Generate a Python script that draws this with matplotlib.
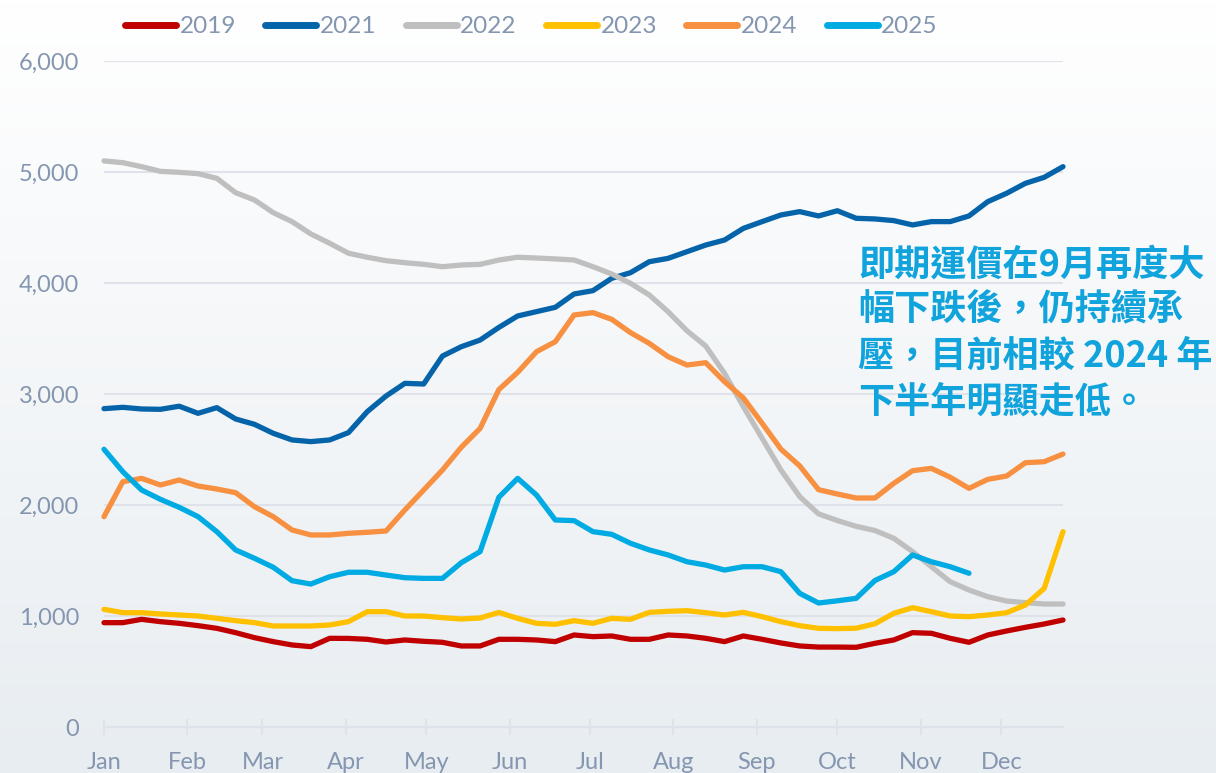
import numpy as np
import matplotlib
matplotlib.use('Agg')
import matplotlib.pyplot as plt
from matplotlib.colors import LinearSegmentedColormap

# weekly values, 52 weeks per year (2025 stops at week 47)
y2019 = [940, 940, 970, 949, 934, 913, 889, 850, 805, 769, 739, 724, 799, 798, 790, 766,
         784, 772, 763, 730, 730, 790, 790, 784, 769, 829, 814, 820, 790, 790, 829, 820,
         799, 769, 820, 790, 757, 730, 720, 720, 718, 754, 784, 850, 844, 799, 763, 829,
         865, 898, 928, 964]
y2021 = [2868, 2880, 2865, 2862, 2890, 2826, 2877, 2775, 2727, 2646, 2586, 2571, 2586, 2652,
         2841, 2982, 3096, 3090, 3342, 3426, 3486, 3600, 3703, 3742, 3781, 3901, 3931, 4042,
         4093, 4192, 4222, 4282, 4342, 4387, 4492, 4553, 4613, 4643, 4604, 4651, 4583, 4577,
         4562, 4523, 4553, 4553, 4604, 4733, 4808, 4898, 4952, 5048]
y2022 = [5100, 5084, 5048, 5006, 4997, 4985, 4943, 4814, 4748, 4634, 4553, 4442, 4358, 4268,
         4232, 4201, 4183, 4168, 4147, 4162, 4168, 4207, 4232, 4225, 4217, 4207, 4147, 4081,
         3997, 3892, 3741, 3570, 3432, 3186, 2886, 2601, 2315, 2075, 1920, 1860, 1808, 1770,
         1700, 1580, 1444, 1309, 1234, 1174, 1135, 1120, 1108, 1108]
y2023 = [1060, 1030, 1030, 1018, 1009, 1000, 979, 958, 940, 910, 910, 910, 919, 949, 1039,
         1039, 1000, 1000, 985, 973, 982, 1032, 979, 934, 925, 958, 934, 979, 970, 1033, 1042,
         1048, 1030, 1009, 1033, 994, 949, 913, 889, 886, 890, 930, 1024, 1075, 1039, 1000,
         994, 1009, 1030, 1099, 1249, 1760]
y2024 = [1895, 2210, 2240, 2180, 2225, 2171, 2144, 2111, 1985, 1895, 1775, 1730, 1730, 1745,
         1754, 1766, 1955, 2135, 2315, 2520, 2690, 3040, 3195, 3381, 3471, 3712, 3733, 3673,
         3553, 3456, 3336, 3261, 3282, 3111, 2965, 2736, 2503, 2352, 2138, 2099, 2063, 2063,
         2195, 2309, 2330, 2250, 2150, 2231, 2261, 2381, 2390, 2459]
y2025 = [2502, 2300, 2135, 2051, 1979, 1895, 1760, 1595, 1520, 1439, 1318, 1288, 1354, 1394,
         1394, 1369, 1345, 1339, 1339, 1480, 1580, 2070, 2240, 2090, 1865, 1859, 1760, 1736,
         1655, 1595, 1550, 1489, 1459, 1414, 1444, 1444, 1399, 1204, 1117, 1137, 1159, 1320,
         1399, 1550, 1489, 1444, 1385]

years = ['2019', '2021', '2022', '2023', '2024', '2025']
series = [y2019, y2021, y2022, y2023, y2024, y2025]
colors = ['#c00000', '#0563a9', '#bfbfbf', '#ffc000', '#f79040', '#00aae2']

months = ['Jan', 'Feb', 'Mar', 'Apr', 'May', 'Jun', 'Jul', 'Aug', 'Sep', 'Oct', 'Nov', 'Dec']
month_start_day = [0, 31, 59, 90, 120, 151, 181, 212, 243, 273, 304, 334]

note = '即期運價在9月再度大\n幅下跌後，仍持續承\n壓，目前相較 2024 年\n下半年明顯走低。'

txt_color = '#8496b0'
plt.rcParams['font.family'] = ['Lato', 'DejaVu Sans']

fig = plt.figure(figsize=(12.16, 7.73), dpi=100)

# background gradient
bg = fig.add_axes([0, 0, 1, 1], zorder=-1)
grad = np.linspace(0, 1, 256).reshape(-1, 1)
cmap = LinearSegmentedColormap.from_list('bg', ['#ffffff', '#e8edf1'])
bg.imshow(grad, aspect='auto', cmap=cmap, extent=[0, 1, 0, 1])
bg.axis('off')

ax = fig.add_axes([104 / 1216, 1 - 727 / 773, (1063 - 104) / 1216, (727 - 61) / 773])
ax.patch.set_alpha(0)

for yr, vals, c in zip(years, series, colors):
    ax.plot(np.arange(len(vals)), vals, color=c, lw=3.8, label=yr,
            solid_capstyle='round', solid_joinstyle='round', clip_on=False)

ax.set_xlim(0, 51)
ax.set_ylim(0, 6000)
ax.set_yticks(range(0, 6001, 1000))
ax.set_yticklabels([f'{v:,}' for v in range(0, 6001, 1000)])
ax.set_xticks([d / 7 for d in month_start_day])
ax.set_xticklabels(months)

ax.grid(axis='y', color='#dfe2ea', lw=1.5)
ax.set_axisbelow(True)
for s in ['top', 'right', 'left']:
    ax.spines[s].set_visible(False)
ax.spines['bottom'].set_color('#dfe2ea')
ax.spines['bottom'].set_linewidth(1.5)
ax.tick_params(axis='y', length=0, pad=18, labelsize=17, labelcolor=txt_color)
ax.tick_params(axis='x', direction='inout', length=12, width=1.5, color='#dfe2ea',
               pad=12, labelsize=17, labelcolor=txt_color)

fig.legend(loc='upper center', bbox_to_anchor=(0.437, 1.007), ncol=6, frameon=False,
           fontsize=17.5, handlelength=2.1, handletextpad=0.15, columnspacing=1.2,
           labelcolor=txt_color)
for h in fig.legends[0].get_lines():
    h.set_linewidth(5)
    h.set_solid_capstyle('round')

fig.text(858 / 1216, 1 - 246 / 773, note, ha='left', va='top', fontsize=26,
         fontweight='bold', color='#10a3dc', linespacing=1.3,
         family=['Noto Sans CJK TC', 'DejaVu Sans'])

fig.savefig('out.png', dpi=100)
